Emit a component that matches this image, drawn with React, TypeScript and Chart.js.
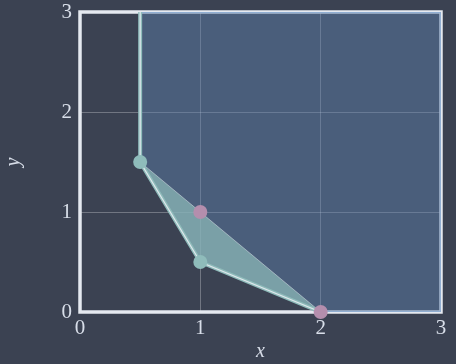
import { useEffect, useRef } from "react";
import { Chart, registerables } from "chart.js";

Chart.register(...registerables);

// Axis ticks
const xTicks = [0, 1, 2, 3];
const yTicks = [0, 1, 2, 3];

// Feasible region: everything above this lower boundary (filled up to y = 3)
const regionX = [0.5, 0.5, 1, 2, 3];
const regionY = [3, 1.5, 0.5, 0, 0];

// Outer edge of the region along the plot limits
const outerX = [0.5, 3, 3, 2];
const outerY = [3, 3, 0, 0];

// Active constraint boundary
const boundaryX = [0.5, 0.5, 1, 2];
const boundaryY = [3, 1.5, 0.5, 0];

// Sliver between the LP vertices and the integer hull edge
const hullUpperX = [0.5, 2];
const hullUpperY = [1.5, 0];
const hullLowerX = [0.5, 1, 2];
const hullLowerY = [1.5, 0.5, 0];

// LP vertices
const vertexX = [0.5, 1];
const vertexY = [1.5, 0.5];

// Integer points
const intX = [1, 2];
const intY = [1, 0];

const BG = "#3b4252";
const FG = "#e5e9f0";
const LABEL = "#d8dee9";
const TEAL = "#8fbcbb";
const PINK = "#b48ead";

const pts = (xs: number[], ys: number[]) => xs.map((x, i) => ({ x, y: ys[i] }));

const frame = {
  id: "frame",
  beforeDraw(chart: any) {
    const { ctx, width, height } = chart;
    ctx.save();
    ctx.fillStyle = BG;
    ctx.fillRect(0, 0, width, height);
    ctx.restore();
  },
  beforeDatasetsDraw(chart: any) {
    const { ctx, chartArea: a } = chart;
    ctx.save();
    ctx.strokeStyle = FG;
    ctx.lineWidth = 3.5;
    ctx.strokeRect(a.left, a.top, a.right - a.left, a.bottom - a.top);
    ctx.restore();
  },
};

export default function App() {
  const ref = useRef<HTMLCanvasElement>(null);

  useEffect(() => {
    document.body.style.margin = "0";
    document.body.style.background = BG;
    const tickFont = { family: "'Liberation Serif', serif", size: 21, lineHeight: 1 };
    const titleFont = { family: "'Liberation Serif', serif", size: 20, style: "italic" as const };

    // higher `order` is drawn first (further back)
    const chart = new Chart(ref.current!, {
      type: "line",
      data: {
        datasets: [
          {
            order: 8,
            data: pts(regionX, regionY),
            fill: "end",
            backgroundColor: "rgba(94,129,172,0.45)",
            borderWidth: 0,
            pointRadius: 0,
          },
          {
            order: 7,
            data: pts(outerX, outerY),
            fill: false,
            borderColor: "rgba(136,170,210,0.75)",
            borderWidth: 2,
            pointRadius: 0,
          },
          {
            order: 5,
            data: pts(hullUpperX, hullUpperY),
            fill: false,
            borderColor: "rgba(236,239,244,0.45)",
            borderWidth: 1,
            pointRadius: 0,
          },
          {
            order: 6,
            data: pts(hullLowerX, hullLowerY),
            fill: { target: 2 },
            backgroundColor: "rgba(143,188,187,0.7)",
            borderWidth: 0,
            pointRadius: 0,
          },
          {
            order: 4,
            data: pts(boundaryX, boundaryY),
            fill: false,
            borderColor: TEAL,
            borderWidth: 4,
            pointRadius: 0,
          },
          {
            order: 3,
            data: pts(boundaryX, boundaryY),
            fill: false,
            borderColor: "rgba(236,239,244,0.85)",
            borderWidth: 1.2,
            pointRadius: 0,
          },
          {
            order: 2,
            data: pts(vertexX, vertexY),
            showLine: false,
            pointRadius: 7,
            pointBackgroundColor: TEAL,
            pointBorderWidth: 0,
            clip: false,
          },
          {
            order: 1,
            data: pts(intX, intY),
            showLine: false,
            pointRadius: 7,
            pointBackgroundColor: PINK,
            pointBorderWidth: 0,
            clip: false,
          },
        ],
      },
      options: {
        responsive: false,
        animation: false,
        devicePixelRatio: 1,
        layout: { padding: { top: 12, right: 15, left: 0, bottom: 0 } },
        plugins: { legend: { display: false }, tooltip: { enabled: false } },
        elements: { line: { tension: 0 } },
        scales: {
          x: {
            type: "linear",
            min: 0,
            max: 3,
            afterBuildTicks: (s: any) => {
              s.ticks = xTicks.map((v) => ({ value: v }));
            },
            afterFit: (s: any) => {
              s.height = 52;
              s.paddingLeft = 0;
              s.paddingRight = 0;
            },
            grid: { color: "rgba(255,255,255,0.28)", drawTicks: false },
            border: { display: false },
            ticks: { color: LABEL, font: tickFont, padding: 6, maxRotation: 0 },
            title: { display: true, text: "x", color: LABEL, font: titleFont, padding: { top: 0, bottom: 0 } },
          },
          y: {
            type: "linear",
            min: 0,
            max: 3,
            afterBuildTicks: (s: any) => {
              s.ticks = yTicks.map((v) => ({ value: v }));
            },
            afterFit: (s: any) => {
              s.width = 80;
              s.paddingTop = 0;
              s.paddingBottom = 0;
            },
            grid: { color: "rgba(255,255,255,0.28)", drawTicks: false },
            border: { display: false },
            ticks: { color: LABEL, font: tickFont, padding: 8 },
            title: { display: true, text: "y", color: LABEL, font: titleFont, padding: { top: 2, bottom: 0 } },
          },
        },
      },
      plugins: [frame],
    });
    return () => chart.destroy();
  }, []);

  return (
    <div style={{ width: 456, height: 364, background: BG }}>
      <canvas ref={ref} width={456} height={364} style={{ display: "block" }} />
    </div>
  );
}
